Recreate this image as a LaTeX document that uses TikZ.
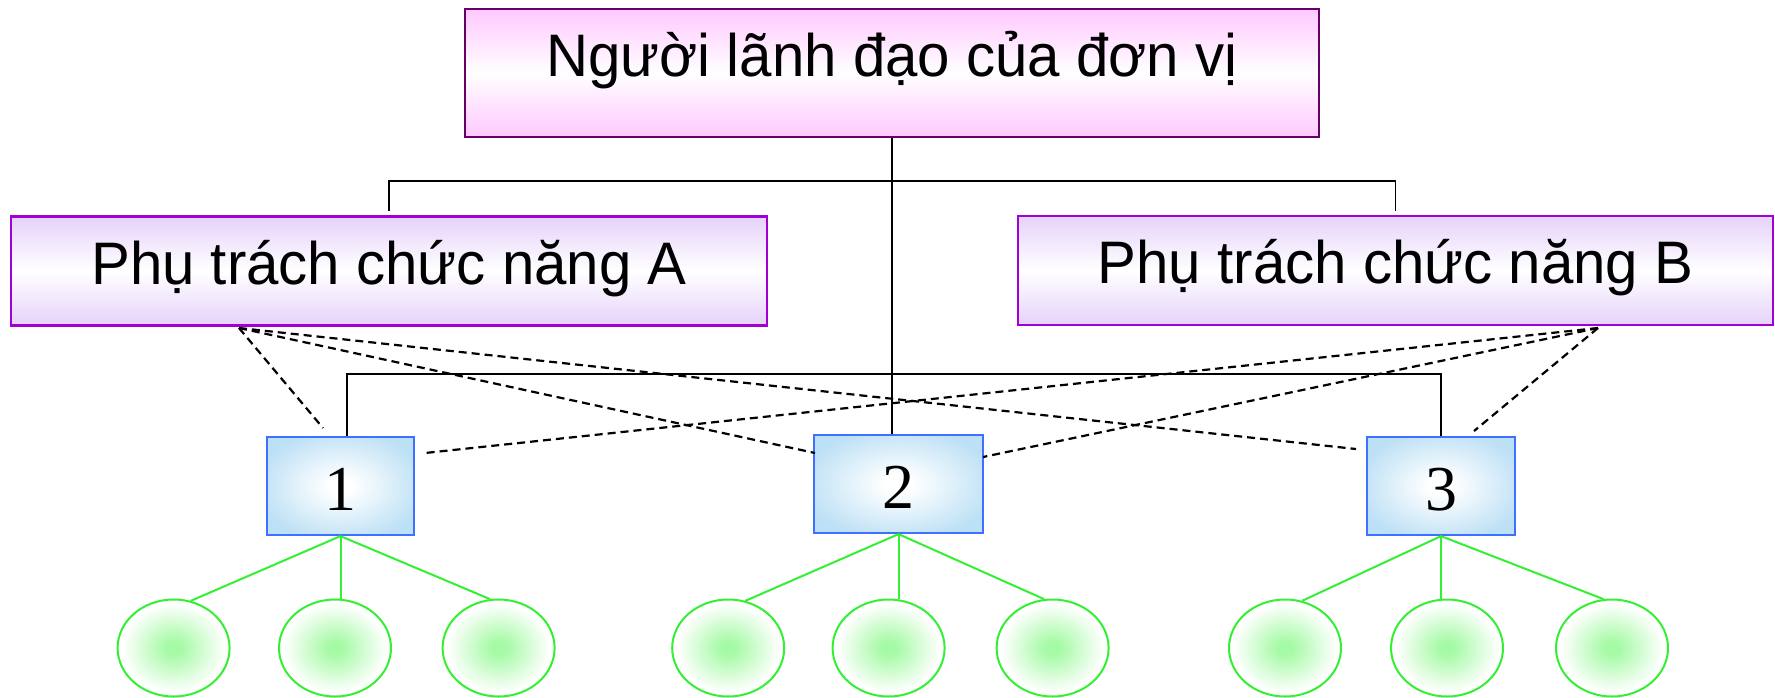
\documentclass[tikz,border=0pt]{standalone}
\usepackage{fontspec}
\setmainfont{Liberation Sans}[FakeStretch=0.97]
\newfontfamily\numfont{Liberation Serif}
\usetikzlibrary{shapes.geometric}
\definecolor{pinkc}{RGB}{255,200,255}
\definecolor{topborder}{RGB}{102,0,102}
\definecolor{lavc}{RGB}{230,210,250}
\definecolor{lavborder}{RGB}{160,0,210}
\definecolor{bluec}{RGB}{188,224,245}
\definecolor{blueborder}{RGB}{64,112,255}
\definecolor{gcen}{RGB}{165,250,165}
\definecolor{leafgreen}{RGB}{51,240,51}
\pgfdeclareradialshading{greenglow}{\pgfpoint{0bp}{0bp}}{color(0bp)=(gcen); color(3bp)=(gcen); color(23bp)=(white); color(50bp)=(white)}
\pgfdeclareradialshading{blueglow}{\pgfpoint{0bp}{0bp}}{color(0bp)=(white); color(4bp)=(white); color(29bp)=(bluec); color(72bp)=(bluec)}
\tikzset{
  x=1pt, y=-1pt,
  conn/.style={line width=1.8pt, black},
  dashconn/.style={line width=2.2pt, black, dash pattern=on 8pt off 5pt},
  leafline/.style={line width=2pt, leafgreen},
  topbox/.style={rectangle, draw=topborder, line width=2.5pt, top color=pinkc, bottom color=pinkc, middle color=white, minimum width=854pt, minimum height=128pt, inner sep=0pt, font=\fontsize{60}{64}\selectfont, text height=30pt, text depth=22.6pt},
  funcbox/.style={rectangle, draw=lavborder, line width=2.2pt, top color=lavc, bottom color=lavc, middle color=white, minimum height=109pt, inner sep=0pt, font=\fontsize{60}{64}\selectfont, text height=34pt, text depth=7.6pt},
  unitbox/.style={rectangle, draw=blueborder, line width=2.2pt, shading=blueglow, minimum height=98pt, inner sep=0pt, font=\numfont\fontsize{64}{70}\selectfont, text height=48pt, text depth=0pt},
  leaf/.style={ellipse, draw=leafgreen, line width=2pt, shading=greenglow, minimum width=112pt, minimum height=97pt, inner sep=0pt}
}
\begin{document}
\begin{tikzpicture}
\useasboundingbox (0,0) rectangle (1775,697);
% boxes
\node[topbox] (top) at (892,73) {Người lãnh đạo của đơn vị};
\node[funcbox, minimum width=756pt] (A) at (389,271) {Phụ trách chức năng A};
\node[funcbox, minimum width=755pt] (B) at (1395.5,270.5) {Phụ trách chức năng B};
\node[unitbox, minimum width=147pt] (b1) at (340.5,486) {1};
\node[unitbox, minimum width=169pt] (b2) at (898.5,484) {2};
\node[unitbox, minimum width=148pt] (b3) at (1441,486) {3};
% leaves
\foreach \n/\x in {11/173.6,12/335,13/498.6,21/728.2,22/888.6,23/1052.6,31/1285,32/1447,33/1612}{
  \node[leaf] (e\n) at (\x,648) {};
}
% solid connectors
\coordinate (jt) at (892,181);
\coordinate (jb) at (892,374);
\draw[conn] (top.south) -- (top.south |- b2.north);
\draw[conn] ([yshift=4pt]A.north) |- (jt) -| ([yshift=4pt]B.north);
\draw[conn] ([xshift=6.5pt]b1.north) |- (jb) -| (b3.north);
% dashed connectors
\coordinate (pa) at (239,328);
\coordinate (pb) at (1598,328);
\coordinate (da1) at (323,428);
\coordinate (da2) at (815,453);
\coordinate (da3) at (1356,449);
\coordinate (db3) at (1474,431);
\coordinate (db2) at (983,457);
\coordinate (db1) at (425,453);
\draw[dashconn] (pa) -- (da1);
\draw[dashconn] (pa) -- (da2);
\draw[dashconn] (pa) -- (da3);
\draw[dashconn] (pb) -- (db3);
\draw[dashconn] (pb) -- (db2);
\draw[dashconn] (pb) -- (db1);
% green connectors
\foreach \b in {1,2,3}{
  \draw[leafline] (b\b.south) -- (e\b1.70);
  \draw[leafline] (b\b.south) -- (b\b.south |- e\b2.north);
  \draw[leafline] (b\b.south) -- (e\b3.100);
}
\end{tikzpicture}
\end{document}
